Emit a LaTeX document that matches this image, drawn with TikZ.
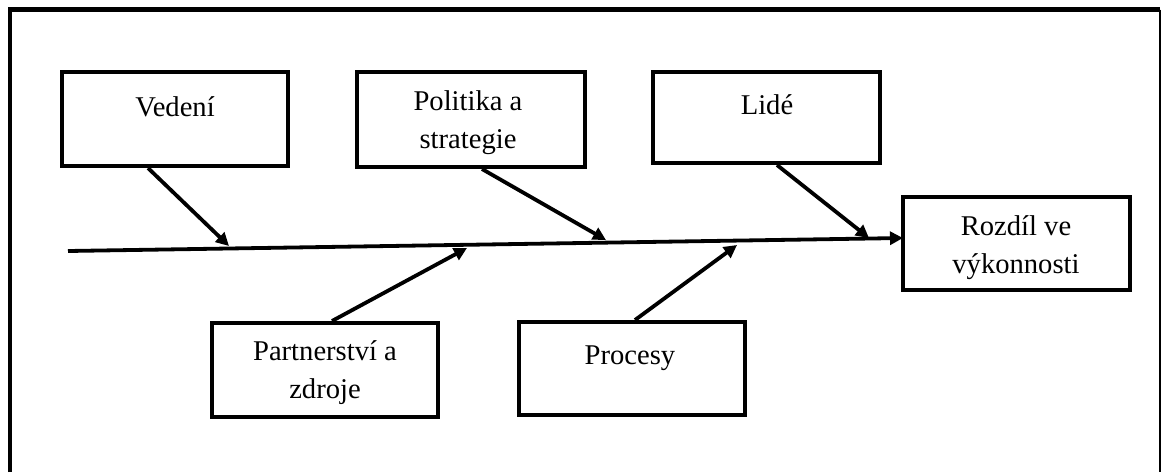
\documentclass[tikz,border=0pt]{standalone}
\usepackage{fontspec}
\setmainfont{Liberation Serif}
\usetikzlibrary{arrows.meta}
\begin{document}
\begin{tikzpicture}[x=0.5pt,y=-0.5pt,
  box/.style={draw=black,line width=2pt,rectangle,inner sep=0pt},
  lbl/.style={font=\fontsize{14.3}{19}\selectfont,align=center,inner sep=0pt,anchor=base},
  conn/.style={line width=1.9pt,-{Triangle[length=6.5pt,width=6.5pt]}}]
\useasboundingbox (0,0) rectangle (1162,472);
\fill[white] (0,0) rectangle (1162,472);
% outer frame
\draw[line width=2.4pt] (10,472) -- (10,9.5) -- (1160,9.5);
\draw[line width=1.1pt] (1160,9.5) -- (1160,472);
% boxes
\node[box,minimum width=113pt,minimum height=47pt] (ved) at (175,119) {};
\node[box,minimum width=114pt,minimum height=47.5pt] (pol) at (471,119.5) {};
\node[box,minimum width=113.5pt,minimum height=45.5pt] (lid) at (766.5,117.5) {};
\node[box,minimum width=113.5pt,minimum height=46.5pt] (roz) at (1016.5,243.5) {};
\node[box,minimum width=113pt,minimum height=47pt] (par) at (325,370) {};
\node[box,minimum width=113pt,minimum height=46.5pt] (pro) at (632,368.5) {};
% texts
\node[lbl] (tved) at (175,116) {Vedení};
\node[lbl] (tpol) at (468,148) {Politika a\\strategie};
\node[lbl] (tlid) at (767,114) {Lidé};
\node[lbl] (troz) at (1016,273) {Rozdíl ve\\výkonnosti};
\node[lbl] (tpar) at (325,398) {Partnerství a\\zdroje};
\node[lbl] (tpro) at (630,364) {Procesy};
% spine
\coordinate (spL) at (68,251);
\coordinate (spR) at (903,238);
\draw[conn] (spL) -- (spR);
% spine points
\coordinate (pved) at (229,246);
\coordinate (ppol) at (606,240);
\coordinate (plid) at (869,238);
\coordinate (ppar) at (467,248);
\coordinate (ppro) at (737,245);
\draw[conn] (ved.south -| 148,0) -- (pved);
\draw[conn] (pol.south -| 482,0) -- (ppol);
\draw[conn] (lid.south -| 777,0) -- (plid);
\draw[conn] (par.north -| 332,0) -- (ppar);
\draw[conn] (pro.north -| 635,0) -- (ppro);
\end{tikzpicture}
\end{document}
